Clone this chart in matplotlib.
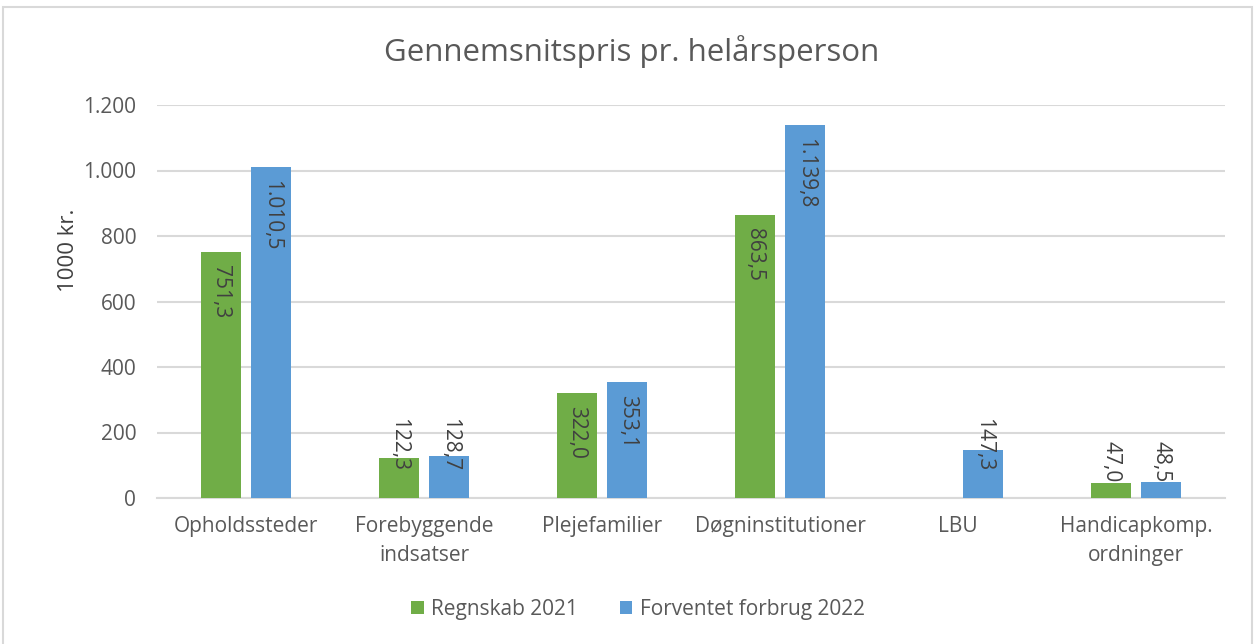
import matplotlib
matplotlib.use("Agg")
import matplotlib.pyplot as plt
from matplotlib.patches import Rectangle
import numpy as np

categories = ["Opholdssteder", "Forebyggende\nindsatser", "Plejefamilier",
              "Døgninstitutioner", "LBU", "Handicapkomp.\nordninger"]
regnskab_2021 = [751.3, 122.3, 322.0, 863.5, None, 47.0]
forventet_2022 = [1010.5, 128.7, 353.1, 1139.8, 147.3, 48.5]
series_names = ["Regnskab 2021", "Forventet forbrug 2022"]
yticks = [0, 200, 400, 600, 800, 1000, 1200]

GREEN = "#70AD47"
BLUE = "#5B9BD5"
TXT = "#595959"
GRID = "#D9D9D9"
FONT = "Open Sans"
FS = 15

W, H = 1255, 644
fig = plt.figure(figsize=(W / 100, H / 100), dpi=100)
fig.patch.set_facecolor("white")
plt.rcParams["font.family"] = [FONT, "DejaVu Sans"]

# frame around chart
fig.patches.append(Rectangle((3 / W, -0.05), (1252 - 3) / W, (644 - 7) / H + 0.05,
                             transform=fig.transFigure, fill=False,
                             edgecolor=GRID, linewidth=1.5))

ax = fig.add_axes([157 / W, (H - 498) / H, (1225 - 157) / W, (498 - 105) / H])
ax.set_xlim(-0.5, len(categories) - 0.5)
ax.set_ylim(0, 1200)

def fmt(v, dec=1):
    s = f"{v:,.{dec}f}"
    return s.replace(",", "X").replace(".", ",").replace("X", ".")

x = np.arange(len(categories))
bw = 0.225
off = 0.143
px_per_unit = (498 - 105) / 1200.0

for vals, color, sign, name in [(regnskab_2021, GREEN, -1, series_names[0]),
                                (forventet_2022, BLUE, 1, series_names[1])]:
    xs = [xi + sign * off for xi, v in zip(x, vals) if v is not None]
    vs = [v for v in vals if v is not None]
    ax.bar(xs, vs, width=bw, color=color, label=name, zorder=3)
    for xi, v in zip(xs, vs):
        bar_px = v * px_per_unit
        label = fmt(v)
        kw = dict(rotation=270, ha="center", color="#404040", fontsize=FS, zorder=4,
                  textcoords="offset pixels")
        if bar_px > 75:
            ax.annotate(label, xy=(xi, v), xytext=(0, -13), va="top", **kw)
        elif bar_px > 28:
            ax.annotate(label, xy=(xi, 0), xytext=(0, 27), va="bottom", **kw)
        else:
            ax.annotate(label, xy=(xi, v), xytext=(0, 0), va="bottom", **kw)

ax.set_yticks(yticks)
ax.set_yticklabels([fmt(t, 0) for t in yticks])
ax.yaxis.grid(True, color=GRID, linewidth=1.5, zorder=0)
ax.set_axisbelow(True)
for s in ["top", "right", "left"]:
    ax.spines[s].set_visible(False)
ax.spines["bottom"].set_color(GRID)
ax.spines["bottom"].set_linewidth(1.5)
ax.tick_params(axis="both", length=0, colors=TXT, labelsize=FS)
ax.tick_params(axis="y", pad=15)
ax.tick_params(axis="x", pad=13)
ax.set_xticks(x)
ax.set_xticklabels(categories, linespacing=1.5)

fig.text(68 / W, (H - 250) / H, "1000 kr.", rotation=90, ha="center", va="center",
         color="#404040", fontsize=16)
fig.text(632 / W, (H - 52) / H, "Gennemsnitspris pr. helårsperson", ha="center",
         va="center", color=TXT, fontsize=22.5)

leg = fig.legend(loc="center", bbox_to_anchor=(638 / W, (H - 609) / H), ncol=2,
                 frameon=False, fontsize=FS, handlelength=0.6, handleheight=0.6,
                 handletextpad=0.35, columnspacing=2.0)
for t in leg.get_texts():
    t.set_color(TXT)

fig.savefig("out.png", dpi=100, facecolor="white")
